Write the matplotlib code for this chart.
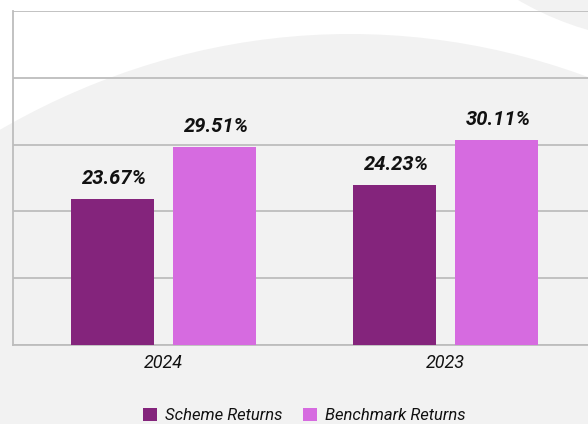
import numpy as np
import matplotlib.pyplot as plt
from matplotlib.patches import Ellipse

# data
years = ['2024', '2023']
scheme_labels = ['23.67%', '24.23%']
bench_labels = ['29.51%', '30.11%']
# bar heights as drawn on the 0-50 scale
scheme_height = [21.85, 23.94]
bench_height = [29.64, 30.69]

scheme_color = '#84247c'
bench_color = '#d66be0'
bg_gray = '#f2f2f2'
grid_gray = '#bdbdbd'

plt.rcParams['font.family'] = ['Roboto', 'DejaVu Sans']

W, H = 588, 424
fig = plt.figure(figsize=(W / 100, H / 100), dpi=100)
fig.patch.set_facecolor('white')

# background shapes (pixel coords -> figure fraction)
def px(x, y):
    return (x / W, (H - y) / H)

big = Ellipse(px(350, 984), 1600 / W, 1900 / H, transform=fig.transFigure,
              facecolor=bg_gray, edgecolor='none', zorder=-10)
fig.patches.append(big)
corner = Ellipse(px(673, -265), 2 * 307 / W, 2 * 307 / H, transform=fig.transFigure,
                 facecolor=bg_gray, edgecolor='none', zorder=-10)
fig.patches.append(corner)

ax = fig.add_axes([12.5 / W, (H - 344.7) / H, 584 / W, 333.4 / H])
ax.set_facecolor('none')

x = np.arange(len(years))
w = 0.294
off = 0.181
b1 = ax.bar(x - off, scheme_height, w, color=scheme_color, label='Scheme Returns', zorder=3)
b2 = ax.bar(x + off, bench_height, w, color=bench_color, label='Benchmark Returns', zorder=3)

for bars, labels in [(b1, scheme_labels), (b2, bench_labels)]:
    for rect, lab in zip(bars, labels):
        ax.annotate(lab, (rect.get_x() + rect.get_width() / 2, rect.get_height()),
                    xytext=(1.5, 10.8), textcoords='offset points',
                    ha='center', va='baseline', fontsize=14.5,
                    fontweight='bold', fontstyle='italic', color='#111111')

ax.set_xlim(-0.535, 1.535)
ax.set_ylim(0, 50)
ax.set_yticks([0, 10, 20, 30, 40, 50])
ax.yaxis.grid(True, color=grid_gray, linewidth=1.3, zorder=1)
ax.set_axisbelow(True)
ax.tick_params(axis='y', left=False, labelleft=False)
ax.set_xticks(x)
ax.set_xticklabels(years, fontsize=13, fontstyle='italic', color='#111111')
ax.tick_params(axis='x', length=0, pad=6.7)
for s in ['top', 'right']:
    ax.spines[s].set_visible(False)
for s in ['left', 'bottom']:
    ax.spines[s].set_color(grid_gray)
    ax.spines[s].set_linewidth(1.3)

fig.legend(handles=[b1, b2], loc='center', bbox_to_anchor=(304.5 / W, 8.5 / H),
           ncol=2, frameon=False, prop={'style': 'italic', 'size': 12},
           handlelength=0.85, handleheight=0.85, handletextpad=0.5, columnspacing=1.2,
           borderpad=0, labelcolor='#111111')

fig.savefig('out.png', dpi=100, facecolor=fig.get_facecolor())
